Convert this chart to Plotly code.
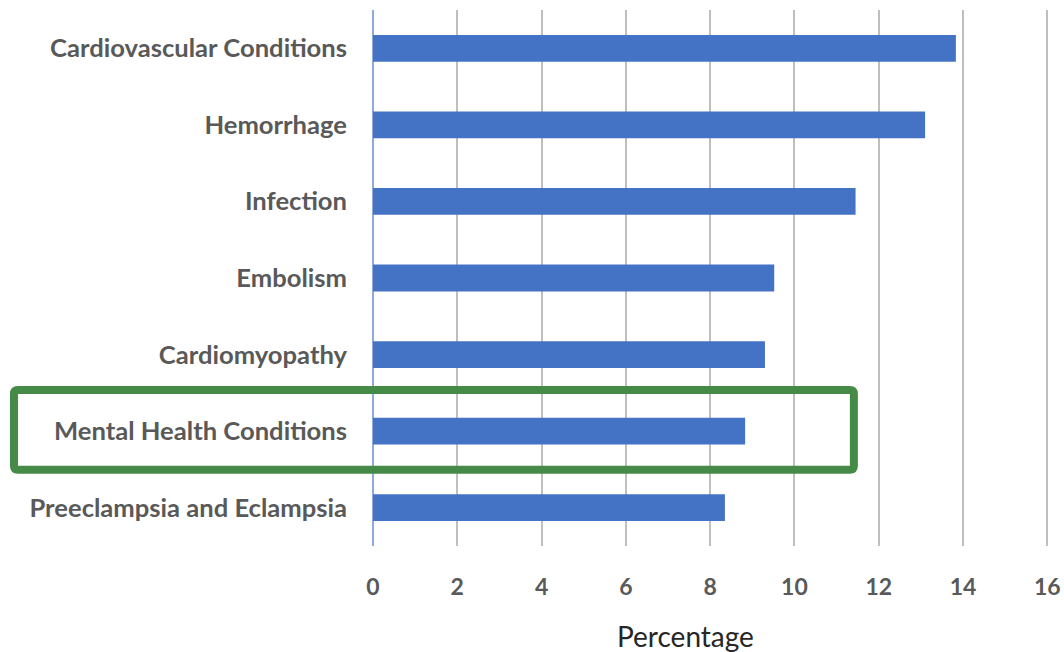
import plotly.graph_objects as go

categories = [
    "Cardiovascular Conditions",
    "Hemorrhage",
    "Infection",
    "Embolism",
    "Cardiomyopathy",
    "Mental Health Conditions",
    "Preeclampsia and Eclampsia",
]
percentages = [13.83, 13.1, 11.45, 9.52, 9.3, 8.83, 8.35]
x_ticks = [0, 2, 4, 6, 8, 10, 12, 14, 16]
x_title = "Percentage"

W, H = 1064, 652
x_max = 16.04  # tiny pad so the gridline at 16 is still drawn
ml, mt, mb = 372.5, 10, 106
unit = 42.2
mr = W - ml - x_max * unit
pw, ph = W - ml - mr, H - mt - mb

def px(pxx):
    return (pxx - ml) / pw

def py(pyy):
    return 1 - (pyy - mt) / ph

fig = go.Figure()
fig.add_trace(go.Bar(
    x=percentages,
    y=categories,
    orientation="h",
    width=0.35,
    marker=dict(color="#4472C4", line=dict(width=0)),
))

fig.update_layout(
    width=W, height=H,
    margin=dict(l=ml, r=mr, t=mt, b=mb, pad=0, autoexpand=False),
    paper_bgcolor="white",
    plot_bgcolor="white",
    showlegend=False,
    font=dict(family="Lato, Open Sans, sans-serif", color="#595959"),
    xaxis=dict(
        range=[0, x_max],
        tickvals=x_ticks,
        automargin=False,
        showgrid=True,
        gridcolor="#BFBFBF",
        gridwidth=2,
        zeroline=True,
        zerolinecolor="#8FAADC",
        zerolinewidth=1.5,
        showline=False,
        ticks="",
        tickfont=dict(size=23, color="#595959", weight="bold"),
        ticklabelstandoff=25,
        fixedrange=True,
    ),
    yaxis=dict(
        categoryorder="array",
        categoryarray=categories,
        autorange="reversed",
        automargin=False,
        showgrid=False,
        zeroline=False,
        showline=False,
        ticks="",
        tickfont=dict(size=25.6, color="#595959", weight="bold"),
        ticklabelstandoff=25,
        fixedrange=True,
    ),
)

fig.add_annotation(
    text=x_title,
    xref="paper", yref="paper",
    x=px(685), y=py(636),
    xanchor="center", yanchor="middle",
    showarrow=False,
    font=dict(size=28, color="#262626", family="Lato, Open Sans, sans-serif"),
)

# Highlight box (rounded corners) around "Mental Health Conditions"
L, R, T, B = 13, 854, 390, 469.7
r = 4
x0, x1 = px(L), px(R)
y0, y1 = py(T), py(B)
rx = r / pw
ry = r / ph
path = (
    f"M {x0 + rx},{y0} L {x1 - rx},{y0} Q {x1},{y0} {x1},{y0 - ry} "
    f"L {x1},{y1 + ry} Q {x1},{y1} {x1 - rx},{y1} "
    f"L {x0 + rx},{y1} Q {x0},{y1} {x0},{y1 + ry} "
    f"L {x0},{y0 - ry} Q {x0},{y0} {x0 + rx},{y0} Z"
)
fig.add_shape(
    type="path",
    xref="paper", yref="paper",
    path=path,
    line=dict(color="#458B47", width=8),
    fillcolor="rgba(0,0,0,0)",
    layer="above",
)

fig.write_html(
    "out.html",
    config={"displayModeBar": False},
    post_script="document.body.style.margin='0px';document.documentElement.style.overflow='hidden';",
)
